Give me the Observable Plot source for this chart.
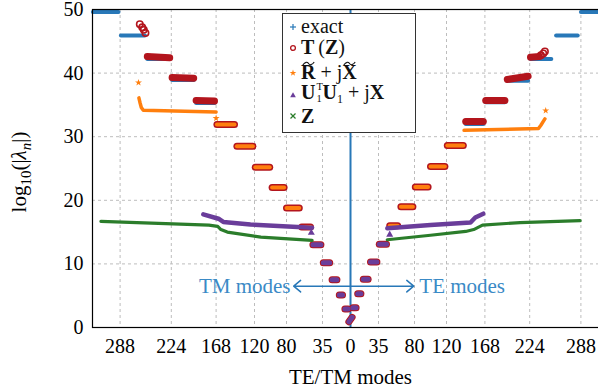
<!DOCTYPE html>
<html><head><meta charset="utf-8">
<script src="https://cdn.jsdelivr.net/npm/d3@7"></script>
<script src="https://cdn.jsdelivr.net/npm/@observablehq/plot@0.6"></script>
<style>
html,body{margin:0;padding:0;overflow:hidden;background:#fff;}
#wrap{position:relative;width:598px;height:390px;overflow:hidden;}
#wrap > svg{display:block;max-width:none !important;}
.leg{position:absolute;left:282px;top:13px;width:132px;height:118px;border:1px solid #333;background:#fff;font-family:"Liberation Serif",serif;font-size:20px;color:#111;}
.row{position:absolute;left:0;height:18px;line-height:18px;white-space:nowrap;}
.row svg.mk{position:absolute;left:6px;}
.row .t{position:absolute;left:18px;top:0;}
.til{position:relative;display:inline-block;}
.til svg{position:absolute;left:1px;top:-2px;}
.ss{position:relative;display:inline-block;width:7px;height:10px;vertical-align:baseline;}
.ss .sp{position:absolute;left:1px;top:-7px;font-size:10.5px;line-height:10px;}
.ss .sd{position:absolute;left:1px;top:4.7px;font-size:10.5px;line-height:10px;}
.sb{font-size:12px;vertical-align:-4px;line-height:10px;}
</style></head><body><div id="wrap"></div>
<script>
// ---- data (mode index: negative = TM, positive = TE) ----
const xTicks = [-288,-224,-168,-120,-80,-35,0,35,80,120,168,224,288];
const xTickLabels = ["288","224","168","120","80","35","0","35","80","120","168","224","288"];
const yTicks = [0,10,20,30,40,50];

// exact eigenvalue plateaus
const exactFrom = [-322,-287,-254,-223,-193,-167,-142,-119,-98,-80,-61,-47,-34,-23,-14,-7,-2,3,9,16,25,36,49,63,81,100,121,144,169,196,225,257,288];
const exactTo   = [-290,-257,-226,-196,-170,-145,-122,-101,-83,-64,-50,-37,-26,-17,-10,-3,2,7,13,22,33,45,59,78,97,118,141,166,193,222,251,284,322];
const exactV1   = [49.6,45.9,42.2,38.9,35.3,31.9,28.5,25.2,22.0,18.8,15.8,13.0,10.2,7.5,5.1,2.9,0.9,3.1,5.3,7.6,10.3,13.1,16.0,19.0,22.1,25.3,28.6,32.0,35.4,38.8,42.2,45.9,49.6];
const exactV2   = [49.6,45.9,42.2,38.9,35.3,31.9,28.5,25.2,22.0,18.8,15.8,13.0,10.2,7.5,5.1,2.9,1.6,3.1,5.3,7.6,10.3,13.1,16.0,19.0,22.1,25.3,28.6,32.0,35.4,38.8,42.2,45.9,49.6];

// T(Z) plateaus and tails
const tzFrom = [-254,-223,-193,-167,-142,-119,-98,-80,-61,-47,-34,-23,-14,-7,-2,3,9,16,25,36,49,63,81,100,121,144,169,196,225];
const tzTo   = [-226,-196,-170,-145,-122,-101,-83,-64,-50,-37,-26,-17,-10,-3,2,7,13,22,33,45,59,78,97,118,141,166,193,222,236];
const tzV1   = [42.6,39.3,35.7,31.9,28.5,25.2,22.0,18.8,15.8,13.0,10.2,7.5,5.1,2.9,0.9,3.1,5.3,7.6,10.3,13.1,16.0,19.0,22.1,25.3,28.6,32.4,35.7,39.0,42.5];
const tzV2   = [42.4,39.2,35.6,31.9,28.5,25.2,22.0,18.8,15.8,13.0,10.2,7.5,5.1,2.9,1.6,3.1,5.3,7.6,10.3,13.1,16.0,19.0,22.1,25.3,28.6,32.4,35.7,39.5,42.6];
const tzTailMode = [-263.4,-260.4,-258.4,-256.3,238,241,243];
const tzTailVal  = [47.7,47.2,46.8,46.3,42.8,43.1,43.4];

// R~ + jX~
const rjxFrom = [-167,-142,-119,-98,-80,-61,-47,-34,-23,-14,-7,-2,3,9,16,25,36,49,63,81,100,121];
const rjxTo   = [-145,-122,-101,-83,-64,-50,-37,-26,-17,-10,-3,2,7,13,22,33,45,59,78,97,118,141];
const rjxV1   = [31.9,28.5,25.2,22.0,18.8,15.8,13.0,10.2,7.5,5.1,2.9,0.9,3.1,5.3,7.6,10.3,13.1,16.0,19.0,22.1,25.3,28.6];
const rjxV2   = [31.9,28.5,25.2,22.0,18.8,15.8,13.0,10.2,7.5,5.1,2.9,1.6,3.1,5.3,7.6,10.3,13.1,16.0,19.0,22.1,25.3,28.6];
const rjxCurveGroup = ["L","L","L","L","L","R","R","R","R","R"];
const rjxCurveMode  = [-264.5,-263,-261.5,-259,-168,142,235,238,241,243];
const rjxCurveVal   = [36.1,35.3,34.6,34.15,33.9,31.0,31.3,31.8,32.4,32.8];
const rjxStarMode = [-265,-168,244];
const rjxStarVal  = [38.5,32.9,34.1];

// U1^T U1 + jX
const uFrom = [-47,-34,-23,-14,-7,-2,3,9,16,25,36];
const uTo   = [-37,-26,-17,-10,-3,2,7,13,22,33,45];
const uV1   = [13.0,10.2,7.5,5.1,2.9,0.9,3.1,5.3,7.6,10.3,13.1];
const uV2   = [13.0,10.2,7.5,5.1,2.9,1.6,3.1,5.3,7.6,10.3,13.1];
const uCurveGroup = ["L","L","L","L","L","R","R","R","R","R","R"];
const uCurveMode  = [-184,-165,-159,-125,-48,46,100,150,153,156,166];
const uCurveVal   = [17.8,17.1,16.6,16.2,15.7,15.6,16.1,16.5,16.9,17.3,17.9];
const uTriMode = [-49,49];
const uTriVal  = [14.9,14.6];

// Z
const zGroup = ["L","L","L","L","L","L","L","R","R","R","R","R","R","R"];
const zMode  = [-312,-177,-166,-162,-154,-112,-48,46,100,144,154,165,212,287];
const zVal   = [16.7,16.1,15.9,15.4,15.0,14.2,13.7,13.8,14.5,15.1,15.4,16.1,16.5,16.8];

// annotations
const arrowTips = [-71, 79];
const arrowLevel = 6.5;
const annModes = [-75, 86];
const annText = ["TM modes", "TE modes"];

// ---- tables ----
const seg = (f, t, a, b) => f.map((d, i) => ({from: d, to: t[i], v1: a[i], v2: b[i]}));
const pts = (g, m, v) => m.map((d, i) => ({g: g ? g[i] : 0, m: d, v: v[i]}));
const exactRows = seg(exactFrom, exactTo, exactV1, exactV2);
const tzRows = seg(tzFrom, tzTo, tzV1, tzV2);
const rjxRows = seg(rjxFrom, rjxTo, rjxV1, rjxV2);
const uRows = seg(uFrom, uTo, uV1, uV2);
const tzTail = pts(null, tzTailMode, tzTailVal);
const rjxCurve = pts(rjxCurveGroup, rjxCurveMode, rjxCurveVal);
const rjxStars = pts(null, rjxStarMode, rjxStarVal);
const uCurve = pts(uCurveGroup, uCurveMode, uCurveVal);
const uTri = pts(null, uTriMode, uTriVal);
const zRows = pts(zGroup, zMode, zVal);
const arrows = arrowTips.map(t => ({x1: 0, x2: t, y: arrowLevel}));
const anns = annModes.map((m, i) => ({m, y: arrowLevel, text: annText[i], anchor: i === 0 ? "end" : "start"}));

const BLUE = "#2878b8", RED = "#b3151d", ORANGE = "#ff7f0e", PURPLE = "#6a3d9a", GREEN = "#2b7d2b";
const linkOpts = (c, w) => ({x1: "from", x2: "to", y1: "v1", y2: "v2", stroke: c, strokeWidth: w, strokeLinecap: "round"});
const lineOpts = (c, w) => ({x: "m", y: "v", z: "g", stroke: c, strokeWidth: w, strokeLinecap: "round", strokeLinejoin: "round"});

const plot = Plot.plot({
  width: 610, height: 390,
  marginLeft: 92, marginRight: 2, marginTop: 9, marginBottom: 63,
  x: {domain: [-322.5, 322.5]},
  y: {domain: [0, 50]},
  style: {fontFamily: "Liberation Serif, serif", fontSize: "20px", color: "#000", background: "#fff", maxWidth: "none", overflow: "visible"},
  marks: [
    Plot.gridX(xTicks, {stroke: "#bdbdbd", strokeOpacity: 1, strokeDasharray: "3,3"}),
    Plot.gridY([10,20,30,40], {stroke: "#bdbdbd", strokeOpacity: 1, strokeDasharray: "3,3"}),
    Plot.ruleX([0], {y1: 0, y2: 50, stroke: BLUE, strokeWidth: 2}),
    Plot.link(exactRows, linkOpts(BLUE, 4)),
    Plot.link(tzRows, linkOpts(RED, 7)),
    Plot.dot(tzTail, {x: "m", y: "v", r: 3.2, stroke: RED, strokeWidth: 1.6, fill: "none"}),
    Plot.line(rjxCurve, lineOpts(ORANGE, 3.5)),
    Plot.link(rjxRows, linkOpts(ORANGE, 4)),
    Plot.dot(rjxStars, {x: "m", y: "v", r: 2.2, symbol: "star", fill: ORANGE}),
    Plot.line(uCurve, lineOpts(PURPLE, 4.5)),
    Plot.link(uRows, linkOpts(PURPLE, 5)),
    Plot.dot(uTri, {x: "m", y: "v", r: 2.6, symbol: "triangle", fill: PURPLE}),
    Plot.line(zRows, lineOpts(GREEN, 3.2)),
    Plot.arrow(arrows, {x1: "x1", x2: "x2", y1: "y", y2: "y", stroke: BLUE, strokeWidth: 1.5, headLength: 9, headAngle: 80}),
    Plot.text(anns.filter(d => d.anchor === "end"), {x: "m", y: "y", text: "text", textAnchor: "end", fill: "#3a8ac6", fontSize: 21}),
    Plot.text(anns.filter(d => d.anchor === "start"), {x: "m", y: "y", text: "text", textAnchor: "start", fill: "#3a8ac6", fontSize: 21}),
    Plot.frame({stroke: "#000", strokeWidth: 1.2}),
    Plot.axisX(xTicks, {tickSize: 0, tickPadding: 11, tickFormat: (d) => xTickLabels[xTicks.indexOf(d)], label: null, fontSize: 20}),
    Plot.axisY(yTicks, {tickSize: 0, tickPadding: 9, label: null, fontSize: 20}),
    Plot.text(["TE/TM modes"], {x: 0, frameAnchor: "bottom", dy: 56, text: d => d, fontSize: 21})
  ]
});
document.getElementById("wrap").appendChild(plot);

// y axis label with subscripts
const svg = d3.select(plot);
const t = svg.append("text").attr("transform", "translate(26,172) rotate(-90)")
  .attr("text-anchor", "middle").attr("font-family", "Liberation Serif, serif").attr("font-size", 21).attr("fill", "#000");
t.append("tspan").text("log");
t.append("tspan").attr("font-size", 15).attr("dy", 5).text("10");
t.append("tspan").attr("dy", -5).text("(|");
t.append("tspan").attr("font-style", "italic").text("λ");
t.append("tspan").attr("font-size", 15).attr("font-style", "italic").attr("dy", 5).text("n");
t.append("tspan").attr("dy", -5).text("|)");

// legend
const sym = (type, size) => d3.symbol(type, size)();
const tilde = `<svg width="13" height="5" viewBox="0 0 13 5"><path d="M0.8 4 C3 0.6, 5.5 0.8, 6.5 2.5 S10 4.4, 12.2 1" fill="none" stroke="#111" stroke-width="1.1"/></svg>`;
const legendRows = [
  {top: 3, mt: 6, mk: `<line x1="1" y1="4" x2="7" y2="4" stroke="${BLUE}" stroke-width="1.2"/><line x1="4" y1="1" x2="4" y2="7" stroke="${BLUE}" stroke-width="1.2"/>`,
   html: `exact`},
  {top: 24, mt: 6, mk: `<circle cx="4" cy="4" r="2.4" fill="none" stroke="${RED}" stroke-width="1.3"/>`,
   html: `<b>T</b>&#8201;(<b>Z</b>)`},
  {top: 49, mt: 6, mk: `<path transform="translate(4,4)" d="${sym(d3.symbolStar, 14)}" fill="${ORANGE}"/>`,
   html: `<b class="til">R${tilde}</b> + j<b class="til">X${tilde}</b>`},
  {top: 69, mt: 8, mk: `<path transform="translate(4,4.5)" d="${sym(d3.symbolTriangle, 14)}" fill="${PURPLE}"/>`,
   html: `<b>U</b><span class="ss"><span class="sp">T</span><span class="sd">1</span></span><b>U</b><span class="sb">1</span> + j<b>X</b>`},
  {top: 93, mt: 5, mk: `<line x1="1.5" y1="1.5" x2="6.5" y2="6.5" stroke="${GREEN}" stroke-width="1.2"/><line x1="6.5" y1="1.5" x2="1.5" y2="6.5" stroke="${GREEN}" stroke-width="1.2"/>`,
   html: `<b>Z</b>`}
];
const leg = document.createElement("div");
leg.className = "leg";
leg.innerHTML = legendRows.map(r => `<div class="row" style="top:${r.top}px"><svg class="mk" style="top:${r.mt}px" width="8" height="8">${r.mk}</svg><span class="t">${r.html}</span></div>`).join("");
document.getElementById("wrap").appendChild(leg);
</script></body></html>
